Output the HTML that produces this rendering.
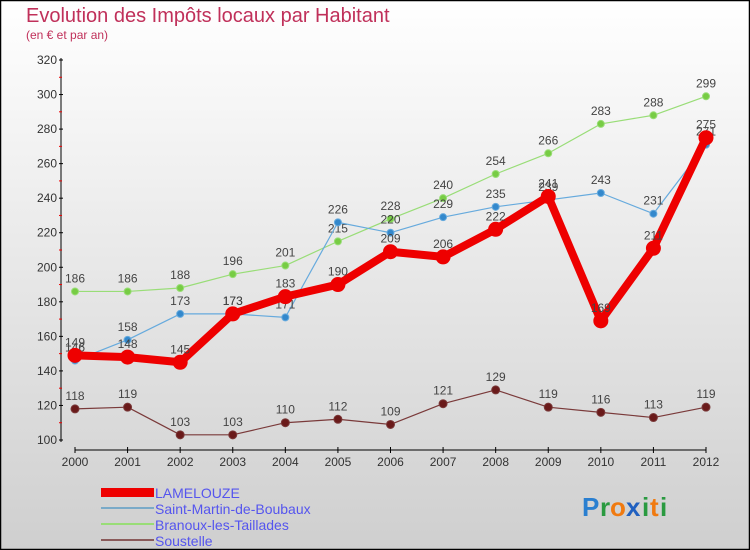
<!DOCTYPE html>
<html><head><meta charset="utf-8"><style>
body{margin:0;width:750px;height:550px;overflow:hidden;font-family:"Liberation Sans",sans-serif}
svg{display:block}
</style></head><body>
<svg id="chart" width="750" height="550" xmlns="http://www.w3.org/2000/svg">
<defs><linearGradient id="bg" x1="0" y1="0" x2="0" y2="1"><stop offset="0" stop-color="#ffffff"/><stop offset="1" stop-color="#cfcfcf"/></linearGradient></defs>
<rect x="0.5" y="0.5" width="749" height="549" fill="url(#bg)" stroke="#000" stroke-width="1.5"/>
<text x="26" y="22" font-size="20" fill="#c0305a">Evolution des Impôts locaux par Habitant</text>
<text x="26" y="39" font-size="12" fill="#c0305a">(en € et par an)</text>
<g id="axes"></g>
<g id="series"></g>
<g>
<rect x="101" y="488" width="53" height="9" fill="#e00"/>
<text x="155" y="498" font-size="14" fill="#5555ee">LAMELOUZE</text>
<line x1="101" y1="508" x2="154" y2="508" stroke="#7aaac8" stroke-width="2"/>
<text x="155" y="514" font-size="14" fill="#5555ee">Saint-Martin-de-Boubaux</text>
<line x1="101" y1="524" x2="154" y2="524" stroke="#99dd77" stroke-width="2"/>
<text x="155" y="530" font-size="14" fill="#5555ee">Branoux-les-Taillades</text>
<line x1="101" y1="540" x2="154" y2="540" stroke="#8a5a5a" stroke-width="2"/>
<text x="155" y="546" font-size="14" fill="#5555ee">Soustelle</text>
</g>
<g font-size="26" font-weight="bold">
<text x="582" y="516" fill="#2a7fd0">P</text><text x="600" y="516" fill="#2a9a40">r</text><text x="610" y="516" fill="#f07a10">o</text><text x="626" y="516" fill="#2060c0">x</text><text x="642" y="516" fill="#2a9a40">i</text><text x="650" y="516" fill="#f07a10">t</text><text x="660" y="516" fill="#2a9a40">i</text>
</g>
</svg>
<script>
const years=[2000,2001,2002,2003,2004,2005,2006,2007,2008,2009,2010,2011,2012];
const yTicks=[100,120,140,160,180,200,220,240,260,280,300,320];
const lamelouze=[149,148,145,173,183,190,209,206,222,241,169,211,275];
const saintMartin=[146,158,173,173,171,226,220,229,235,239,243,231,271];
const branoux=[186,186,188,196,201,215,228,240,254,266,283,288,299];
const soustelle=[118,119,103,103,110,112,109,121,129,119,116,113,119];
const NS="http://www.w3.org/2000/svg";
function x(i){return 75+i*(706-75)/12;}
function y(v){return 440-(v-100)*(380/220);}
function mk(tag,attrs,parent,text){const e=document.createElementNS(NS,tag);for(const k in attrs)e.setAttribute(k,attrs[k]);if(text!==undefined)e.textContent=text;parent.appendChild(e);return e;}
const ax=document.getElementById('axes');
const ya=mk('line',{x1:61,y1:58,x2:61,y2:442,stroke:'#000','stroke-width':1},ax);


const xa=mk('line',{x1:75,y1:450,x2:706,y2:450,stroke:'#000','stroke-width':1},ax);


yTicks.forEach(v=>{
 mk('line',{x1:59,y1:y(v),x2:63,y2:y(v),stroke:'#000'},ax);
 if(v<320)mk('line',{x1:59,y1:y(v+10),x2:62,y2:y(v+10),stroke:'#e00'},ax);
 const t=mk('text',{x:57,y:y(v)+4,'font-size':12,fill:'#333','text-anchor':'end'},ax,String(v));
 
 
});
years.forEach((yr,i)=>{
 mk('line',{x1:x(i),y1:447,x2:x(i),y2:453,stroke:'#000'},ax);
 const t=mk('text',{x:x(i),y:466,'font-size':12,fill:'#333','text-anchor':'middle'},ax,String(yr));
 
 
});
const sg=document.getElementById('series');
function series(name,data,color,dot,w,r){
 const g=mk('g',{},sg);
 
 
 const l=mk('polyline',{points:data.map((v,i)=>x(i)+','+y(v)).join(' '),fill:'none',stroke:color,'stroke-width':w,'stroke-linejoin':'round'},g);
 
 
 data.forEach((v,i)=>{
  const c=mk('circle',{cx:x(i),cy:y(v),r:r,fill:dot,stroke:color,'stroke-width':1},g);
  
  
  const t=mk('text',{x:x(i),y:y(v)-9,'font-size':12,fill:'#444','text-anchor':'middle'},g,String(v));
  
  
 });
}
series('soustelle',soustelle,'#7a3a3a','#6a1a1a',1.2,4);
series('branoux',branoux,'#99dd77','#77cc44',1.2,3.5);
series('saint-martin',saintMartin,'#66aadd','#3388cc',1.2,3.5);
series('lamelouze',lamelouze,'#ee0000','#ee0000',8,7);
</script>
</body></html>
